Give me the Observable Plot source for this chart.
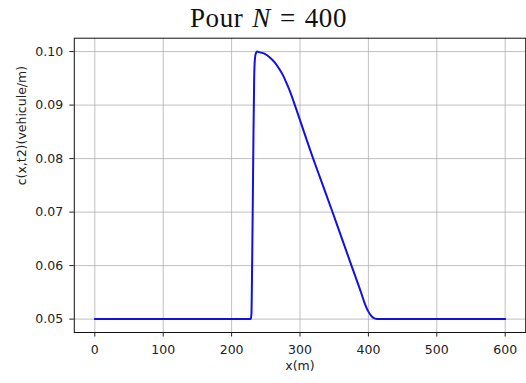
<!DOCTYPE html>
<html>
<head>
<meta charset="utf-8">
<script src="https://cdn.jsdelivr.net/npm/d3@7"></script>
<script src="https://cdn.jsdelivr.net/npm/@observablehq/plot@0.6"></script>
<style>
  html, body { margin: 0; padding: 0; background: #fff; }
  #wrap { width: 526px; height: 383px; overflow: hidden; }
  #title { position: relative; height: 30px; box-sizing: border-box; padding-top: 3px; }
  #title .t { position: absolute; left: 268.5px; transform: translateX(-50%); white-space: nowrap;
    font-family: "Liberation Serif", serif; font-size: 27px; line-height: 30px; color: #111; letter-spacing: 0.6px; }
  #title .sp { margin: 0 9px; }
  #title .w { margin-right: 9px; }
</style>
</head>
<body>
<div id="wrap">
  <div id="title"><span class="t"><span class="w">Pour</span><i>N</i><span class="sp">=</span>400</span></div>
  <div id="chart"></div>
</div>
<script>
const xs = [0, 50, 100, 150, 200, 228, 229, 230, 231, 232, 233, 234, 235.5, 237.5,
            240, 248, 255, 263, 270, 275, 281, 287, 293, 300, 310, 319, 330, 347, 360,
            375, 390, 395, 400, 405, 410, 415, 450, 500, 550, 600];
const cs = [0.05, 0.05, 0.05, 0.05, 0.05, 0.0500, 0.0510, 0.0600, 0.0720, 0.0850, 0.0950, 0.0985, 0.0997, 0.1000,
            0.0999, 0.0996, 0.0990, 0.0980, 0.0967, 0.0956, 0.0939, 0.0920, 0.0898, 0.0872, 0.0834, 0.0801, 0.0762, 0.0702, 0.0655,
            0.0601, 0.0547, 0.0528, 0.0514, 0.0505, 0.0501, 0.0500, 0.05, 0.05, 0.05, 0.05];
const xTicks = [0, 100, 200, 300, 400, 500, 600];
const yTicks = [0.05, 0.06, 0.07, 0.08, 0.09, 0.10];
const xLabel = "x(m)";
const yLabel = "c(x,t2)(vehicule/m)";

const data = xs.map((x, i) => ({x, c: cs[i]}));
const grid = {stroke: "#b0b0b0", strokeOpacity: 1, strokeWidth: 0.8};

const chart = Plot.plot({
  width: 526,
  height: 353,
  marginTop: 7.7,
  marginBottom: 51,
  marginLeft: 73.8,
  marginRight: 0.8,
  x: {domain: [-30, 630]},
  y: {domain: [0.0475, 0.1025]},
  style: {fontFamily: "DejaVu Sans", fontSize: "12.5px", color: "#222", background: "white", overflow: "visible"},
  marks: [
    Plot.gridX(xTicks, grid),
    Plot.gridY(yTicks, grid),
    Plot.line(data, {x: "x", y: "c", stroke: "#1212dc", strokeWidth: 2, curve: "monotone-x"}),
    Plot.frame({stroke: "#111", strokeWidth: 1}),
    Plot.axisX(xTicks, {tickSize: 4.5, tickPadding: 8.5, label: null}),
    Plot.axisY(yTicks, {tickSize: 4.5, tickPadding: 6.6, tickFormat: d3.format(".2f"), label: null}),
    Plot.text([xLabel], {frameAnchor: "bottom", dy: 37, text: d => d}),
    Plot.text([yLabel], {frameAnchor: "left", dx: -52.8, rotate: -90, text: d => d})
  ]
});
document.getElementById("chart").appendChild(chart);
</script>
</body>
</html>
